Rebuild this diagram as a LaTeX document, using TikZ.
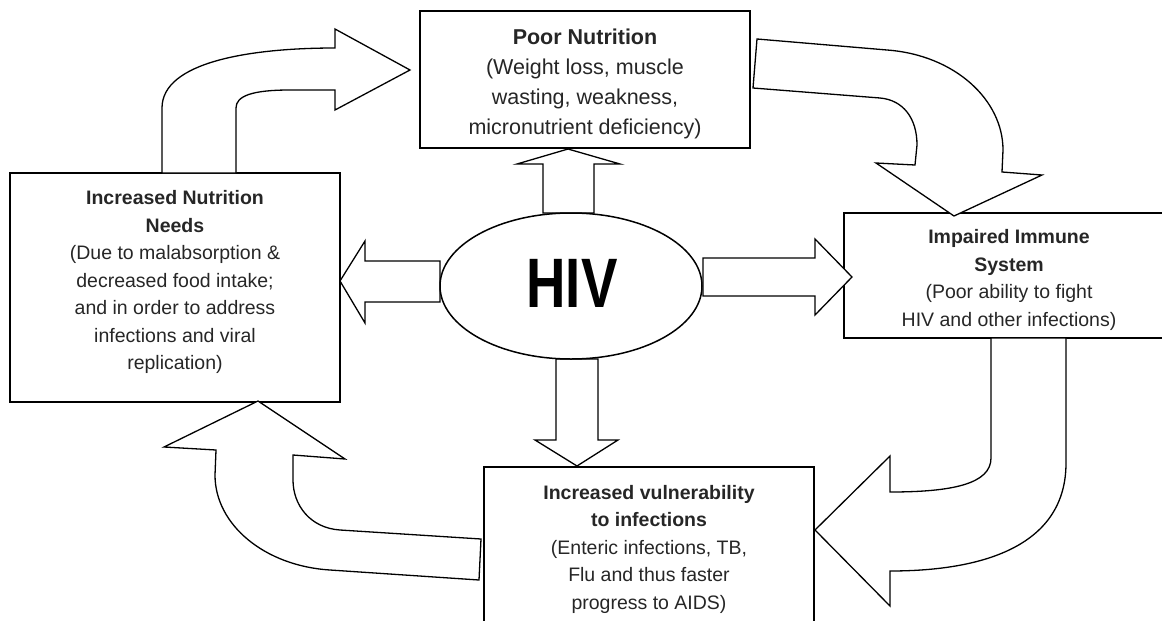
\documentclass[tikz,border=0pt]{standalone}
\usepackage{fontspec}
\setmainfont{Liberation Sans}
\usetikzlibrary{shapes.geometric}
\definecolor{txt}{gray}{0.15}
\begin{document}
\begin{tikzpicture}[x=1pt,y=-1pt,
  box/.style={draw, line width=1.6pt, minimum width=330pt, inner sep=0pt, outer sep=0pt, anchor=north west},
  lbl/.style={text=txt, align=center, inner sep=0pt},
  blk/.style={draw, fill=white, line width=1.3pt, line join=miter},
  fa/.style={font=\fontsize{21.5}{29.8}\selectfont},
  fb/.style={font=\fontsize{19.5}{27.5}\selectfont}]
\useasboundingbox (0,0) rectangle (1162,621);

% boxes
\node[box, minimum height=137pt] (pn) at (420,11) {};
\node[box, minimum height=229pt] (inn) at (10,173) {};
\node[box, minimum height=125pt] (iis) at (844,213) {};
\node[box, minimum height=172pt] (ivi) at (484,467) {};

% straight block arrows from HIV
\draw[blk] (543,213) -- (543,164) -- (517,164) -- (568,149) -- (620,164) -- (594,164) -- (594,213) -- cycle;
\draw[blk] (440,261) -- (365,261) -- (365,241) -- (340,281) -- (365,323) -- (365,302) -- (440,302) -- cycle;
\draw[blk] (703,258) -- (815,258) -- (815,239) -- (852,277) -- (815,315) -- (815,296) -- (703,296) -- cycle;
\draw[blk] (556,359) -- (556,440) -- (535,440) -- (577,466) -- (618,440) -- (598,440) -- (598,359) -- cycle;

% HIV ellipse
\node[ellipse, draw, fill=white, line width=1.5pt, minimum width=262pt, minimum height=146pt, inner sep=0pt] (hiv) at (571,286) {};
\node[inner sep=0pt, font=\fontsize{70}{70}\selectfont\bfseries] (hivt) at (572,283) {\scalebox{0.78}[1]{HIV}};

% curved arrows
% Increased Nutrition Needs -> Poor Nutrition
\draw[blk] (162,173) -- (162,108) .. controls (162,62) and (250,48) .. (335,48)
  -- (335,29) -- (410,70) -- (335,110) -- (335,90) -- (290,90)
  .. controls (252,90) and (236,96) .. (236,108) -- (236,173) -- cycle;
% Poor Nutrition -> Impaired Immune System
\draw[blk] (757,39) -- (887,50) .. controls (955,55) and (1003,100) .. (1003,150)
  -- (1002,172) -- (1042,175) -- (954,216) -- (876,163) -- (915,165) -- (917,145)
  .. controls (917,118) and (903,100) .. (880,98) -- (753,88) -- cycle;
% Impaired Immune System -> Increased vulnerability
\draw[blk] (991,338) -- (991,458) .. controls (991,484) and (952,492) .. (890,492)
  -- (890,456) -- (815,530) -- (890,606) -- (890,571)
  .. controls (985,571) and (1066,545) .. (1066,463) -- (1066,338) -- cycle;
% Increased vulnerability -> Increased Nutrition Needs
\draw[blk] (481,539) -- (340,530) .. controls (310,528) and (293,505) .. (293,480)
  -- (293,455) -- (345,459) -- (258,401) -- (164,447) -- (216,450) -- (215,475)
  .. controls (215,525) and (265,566) .. (330,570) -- (479,580) -- cycle;

% labels
\node[lbl, fa] (pnt) at (585,84) {\textbf{Poor Nutrition}\\(Weight loss, muscle\\wasting, weakness,\\micronutrient deficiency)};
\node[lbl, fb] (innt) at (175,282) {\textbf{Increased Nutrition}\\\textbf{Needs}\\(Due to malabsorption \&\\decreased food intake;\\and in order to address\\infections and viral\\replication)};
\node[lbl, fb] (iist) at (1009,280) {\textbf{Impaired Immune}\\\textbf{System}\\(Poor ability to fight\\HIV and other infections)};
\node[lbl, fb] (ivit) at (649,549) {\textbf{Increased vulnerability}\\\textbf{to infections}\\(Enteric infections, TB,\\Flu and thus faster\\progress to AIDS)};
\end{tikzpicture}
\end{document}
